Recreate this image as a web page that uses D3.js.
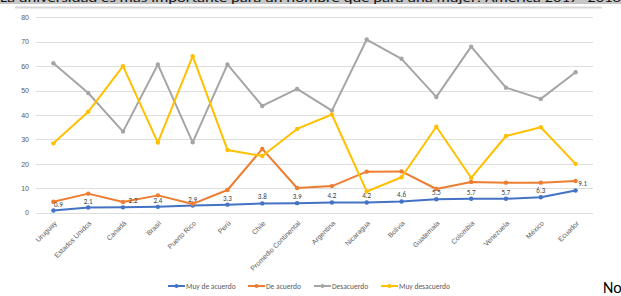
<!DOCTYPE html>
<html><head><meta charset="utf-8">
<script src="https://cdn.jsdelivr.net/npm/d3@7"></script>
<style>html,body{margin:0;padding:0;background:#fff;overflow:hidden}svg{display:block;font-family:Calibri,Carlito,"Liberation Sans",Arial,sans-serif}</style>
</head><body>
<script>
const categories = ["Uruguay","Estados Unidos","Canadá","Brasil","Puerto Rico","Perú","Chile","Promedio Continental","Argentina","Nicaragua","Bolivia","Guatemala","Colombia","Venezuela","México","Ecuador"];
const muyDeAcuerdo = [0.9,2.1,2.2,2.4,2.9,3.3,3.8,3.9,4.2,4.2,4.6,5.5,5.7,5.7,6.3,9.1];
const deAcuerdo = [4.5,7.8,4.4,7.1,3.6,9.3,26.1,10.1,10.9,16.8,16.9,9.7,12.6,12.3,12.3,13.0];
const desacuerdo = [61.2,49.0,33.2,60.7,28.8,60.7,43.7,50.7,41.8,70.9,63.0,47.4,68.0,51.2,46.6,57.5];
const muyDesacuerdo = [28.4,41.3,60.0,28.7,64.1,25.7,23.2,34.3,40.2,8.7,14.5,35.2,14.3,31.4,35.0,20.0];
const seriesNames = ["Muy de acuerdo","De acuerdo","Desacuerdo","Muy desacuerdo"];
const yTicks = [0,10,20,30,40,50,60,70,80];
const title = "La universidad es más importante para un hombre que para una mujer: América 2017- 2018";

const W = 621, H = 296;
const colors = ["#4472C4","#ED7D31","#A5A5A5","#FFC000"];
const seriesVals = [muyDeAcuerdo, deAcuerdo, desacuerdo, muyDesacuerdo];

const svg = d3.select("body").append("svg").attr("width", W).attr("height", H);

// title band (cut off at top)
svg.append("rect").attr("x",0).attr("y",0).attr("width",W).attr("height",4).attr("fill","#c6c6c6");
svg.append("text").attr("x",0).attr("y",2).attr("font-size",13).attr("fill","#111")
  .attr("textLength",621).attr("lengthAdjust","spacingAndGlyphs").text(title);
// chart top border
svg.append("line").attr("x1",15).attr("x2",602).attr("y1",7.5).attr("y2",7.5).attr("stroke","#d6d6d6").attr("stroke-width",2);

const x = d3.scaleBand().domain(categories).range([36, 593]);
const y = d3.scaleLinear().domain([0,80]).range([212.7, 17.3]);
const cx = d => x(d) + x.bandwidth()/2;

// grid
svg.append("g").selectAll("line").data(yTicks).join("line")
  .attr("x1",36).attr("x2",593).attr("y1",d=>Math.round(y(d))+0.5).attr("y2",d=>Math.round(y(d))+0.5)
  .attr("stroke","#dedede").attr("stroke-width",1);

// y axis
const yAxis = d3.axisLeft(y).tickValues(yTicks).tickSize(0).tickPadding(0);
const gy = svg.append("g").attr("transform","translate(29,0)").call(yAxis);
gy.select(".domain").remove();
gy.selectAll("text").attr("font-size",7).attr("fill","#595959").attr("font-family","inherit");

// x axis
const xAxis = d3.axisBottom(x).tickSize(0).tickPadding(0);
const gx = svg.append("g").attr("transform","translate(0,222)").call(xAxis);
gx.select(".domain").remove();
gx.selectAll("text").attr("font-size",7).attr("fill","#595959").attr("font-family","inherit")
  .attr("text-anchor","end").attr("dy","0.35em").attr("dx","0")
  .attr("transform","translate(2,0) rotate(-45)");

// lines
const line = d3.line().x((d,i)=>cx(categories[i])).y(d=>y(d));
seriesVals.forEach((vals,si)=>{
  const g = svg.append("g");
  g.append("path").datum(vals).attr("d",line).attr("fill","none")
    .attr("stroke",colors[si]).attr("stroke-width",2).attr("stroke-linejoin","round");
  g.selectAll("circle").data(vals).join("circle")
    .attr("cx",(d,i)=>cx(categories[i])).attr("cy",d=>y(d)).attr("r",2.2).attr("fill",colors[si]);
});

// data labels for first series
svg.append("g").selectAll("text").data(muyDeAcuerdo).join("text")
  .attr("x",(d,i)=>cx(categories[i]) + (i===0?5:(i===2?10:(i===muyDeAcuerdo.length-1?7:0))))
  .attr("y",(d,i)=>y(d)-4 - (i===muyDeAcuerdo.length-1?0:0))
  .attr("text-anchor","middle").attr("font-size",7).attr("fill","#404040")
  .text(d=>d.toFixed(1));

// legend
const legX = [168, 248, 314, 381];
const lg = svg.append("g");
seriesNames.forEach((n,i)=>{
  lg.append("line").attr("x1",legX[i]).attr("x2",legX[i]+17).attr("y1",286).attr("y2",286)
    .attr("stroke",colors[i]).attr("stroke-width",2);
  lg.append("circle").attr("cx",legX[i]+8.5).attr("cy",286).attr("r",2).attr("fill",colors[i]);
  lg.append("text").attr("x",legX[i]+18).attr("y",288.5).attr("font-size",7.5).attr("fill","#595959").text(n);
});

svg.append("text").attr("x",603).attr("y",293).attr("font-size",16).attr("fill","#000").text("No");
</script>
</body></html>
